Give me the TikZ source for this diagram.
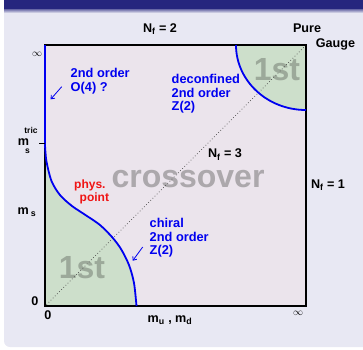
\documentclass[tikz,border=0pt]{standalone}
\usepackage{fontspec}
\setmainfont{Liberation Sans}
\usetikzlibrary{arrows.meta,positioning}
\definecolor{pHead}{HTML}{26267E}
\definecolor{pBody}{HTML}{E8E8F3}
\definecolor{pBox}{HTML}{EBE4EC}
\definecolor{pGreen}{HTML}{CDDFCB}
\definecolor{pBlue}{HTML}{0000F0}
\definecolor{pRed}{HTML}{F01414}
\definecolor{pGrey}{HTML}{ACA8AC}
\definecolor{pGreyG}{HTML}{9CA99A}
\tikzset{
  lbl/.style  = {font=\bfseries\fontsize{12.6}{14}\selectfont, inner sep=0pt},
  sml/.style  = {font=\bfseries\fontsize{8.5}{9}\selectfont, inner sep=0pt},
  blu/.style  = {inner sep=0pt, align=left, text=pBlue,
                 font=\bfseries\fontsize{12.8}{13.4}\selectfont},
  red/.style  = {inner sep=0pt, align=left, text=pRed,
                 font=\bfseries\fontsize{12}{13}\selectfont},
  big/.style  = {inner sep=0pt, font=\bfseries\fontsize{32}{32}\selectfont},
  inf/.style  = {inner sep=0pt, font=\fontsize{10}{10}\selectfont},
  bline/.style = {draw=pBlue, line width=1.8pt},
  ar/.style   = {-{Straight Barb[length=3pt,width=5pt]}, draw=pBlue, line width=0.8pt},
}

\begin{document}
\begin{tikzpicture}[x=1pt, y=-1pt]
  \clip (0,0) rectangle (363,349);
  % block frame
  \fill[pBody, rounded corners=6pt] (4,-10) rectangle (380,347);
  \fill[pHead] (4,0) rectangle (380,9);
  \shade[top color=pHead!70, bottom color=pBody] (4,9) rectangle (380,13);
  % phase diagram
  \fill[pBox] (45,45) rectangle (306,306);
  \fill[pGreen] (236,45) arc[start angle=180, end angle=90, x radius=70, y radius=65]
    -- (306,45) -- cycle;
  \fill[pGreen] plot[smooth] coordinates {(45,145) (46.4,161) (51.5,181) (60,195)
    (72,206) (87,216) (100,225) (112,237) (121,249) (129,265) (134,283) (136.5,306)}
    -- (45,306) -- cycle;
  \node[big, text=pGreyG] (firstA) at (277,70) {1st};
  \node[big, text=pGreyG] (firstB) at (82,268) {1st};
  \node[big, text=pGrey, text height=16pt, text depth=0pt] (cross) at (188,179.5) {crossover};
  \draw[gray!60!black, line width=0.7pt, dash pattern=on 0.7pt off 2.3pt]
    (46.5,304.5) -- (304.5,46.5);
  \draw[line width=1.6pt] (45,45) rectangle (306,306);
  \draw[bline] (236,45) arc[start angle=180, end angle=90, x radius=70, y radius=65];
  \draw[bline] (45,45) -- (45,145) plot[smooth] coordinates {(45,145) (46.4,161)
    (51.5,181) (60,195) (72,206) (87,216) (100,225) (112,237) (121,249) (129,265)
    (134,283) (136.5,306)};
  \draw[line width=1.2pt] (39,143.5) -- (45,143.5);
  % labels
  \node[lbl] (nf2) at (160,29) {N\textsubscript{f} = 2};
  \node[lbl] (pure) at (307,28) {Pure};
  \node[lbl] (gauge) at (335.5,44) {Gauge};
  \node[lbl] (nf3) at (225,154.5) {N\textsubscript{f} = 3};
  \node[lbl] (nf1) at (328,185) {N\textsubscript{f} = 1};
  \node[inf] (infL) at (37,54) {$\infty$};
  \node[inf] (infB) at (298,313) {$\infty$};
  \node[lbl] (zeroL) at (35,301) {0};
  \node[lbl] (zeroB) at (48,315) {0};
  \node[lbl] (mumd) at (170,320) {m\textsubscript{u} , m\textsubscript{d}};
  \node[lbl] (mtric) at (23.5,142) {m};
  \node[sml] (tric) at (31,130) {tric};
  \node[sml] (tricS) at (27.5,151) {s};
  \node[lbl] (ms) at (27,212) {m\,\textsubscript{s}};
  \node[blu, anchor=west] (o4) at (70.5,81) {2nd order\\O(4) ?};
  \node[blu, anchor=west] (deconf) at (171.5,94) {deconfined\\2nd order\\Z(2)};
  \node[blu, anchor=west] (chiral) at (149.5,238) {chiral\\2nd order\\Z(2)};
  \node[red, anchor=west] (phys) at (74,192) {phys.\\\hspace*{5.5pt}point};
  % pointers to the lines
  \coordinate (o4tail) at (61.7,86.7);
  \coordinate (o4tip) at (50.7,99.3);
  \coordinate (z2tail) at (142.7,247);
  \coordinate (z2tip) at (132.7,260.7);
  \draw[ar] (o4tail) -- (o4tip);
  \draw[ar] (z2tail) -- (z2tip);
\end{tikzpicture}
\end{document}
